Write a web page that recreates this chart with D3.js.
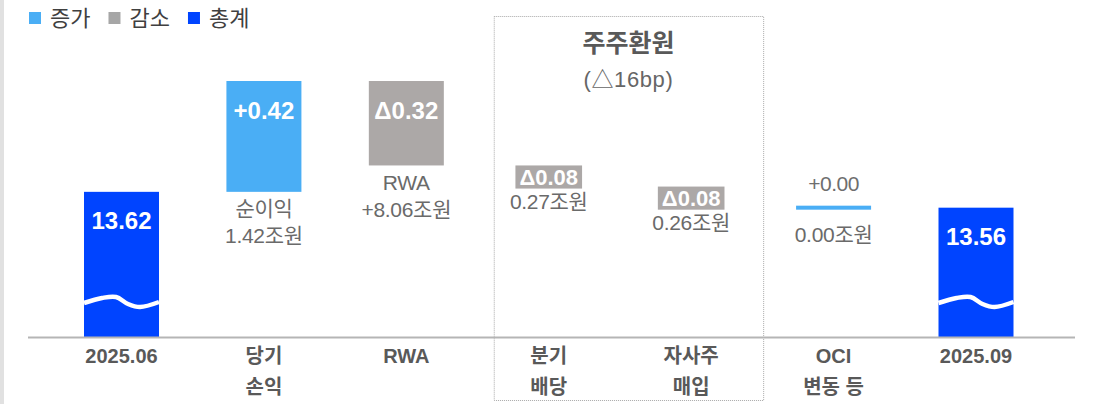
<!DOCTYPE html>
<html>
<head>
<meta charset="utf-8">
<script src="https://cdn.jsdelivr.net/npm/d3@7/dist/d3.min.js"></script>
<style>
  html, body { margin: 0; padding: 0; background: #fff; }
  svg text { font-family: "Liberation Sans", Arial, "Noto Sans CJK KR", sans-serif; }
</style>
</head>
<body>
<svg id="chart" width="1094" height="404"></svg>
<script>
// data
var categories = ["2025.06", "당기\n손익", "RWA", "분기\n배당", "자사주\n매입", "OCI\n변동 등", "2025.09"];
var kinds = ["total", "inc", "dec", "dec", "dec", "inc", "total"];
var values = [13.62, 0.42, -0.32, -0.08, -0.08, 0.00, 13.56];
var valueLabels = ["13.62", "+0.42", "Δ0.32", "Δ0.08", "Δ0.08", "+0.00", "13.56"];
var subLabels = [[], ["순이익", "1.42조원"], ["RWA", "+8.06조원"], ["0.27조원"], ["0.26조원"], ["0.00조원"], []];
var legendLabels = ["증가", "감소", "총계"];
var groupTitle = ["주주환원", "(△16bp)"];
var groupCats = [3, 4];

var colors = {inc: "#4aaef5", dec: "#aca8a7", total: "#0044ff"};
var legendColors = ["#4aaef5", "#a6a6a6", "#0044ff"];

var svg = d3.select("#chart");
var baseY = 337;

// running totals for the waterfall
var running = 0;
var rows = values.map(function(v, i) {
	var r = {cat: categories[i], kind: kinds[i], label: valueLabels[i], sub: subLabels[i], i: i};
	if (kinds[i] == "total") { r.start = 0; r.end = v; running = v; }
	else { r.start = running; r.end = running + v; running = r.end; }
	return r;
});

var x = d3.scalePoint()
	.domain(categories)
	.range([121.5, 976]);

// broken axis: only the top part of the totals is shown
var y = d3.scaleLinear()
	.domain([13.07, 14.04])
	.range([baseY, 81]);

var barW = 75;

// left gray strip
svg.append("rect").attr("x", 0).attr("y", 0).attr("width", 4).attr("height", 404).attr("fill", "#e1e1e1");

// group box (shareholder return)
var gx0 = x(categories[groupCats[0]]) - 55,
	gx1 = x(categories[groupCats[1]]) + 72;
svg.append("rect")
	.attr("x", gx0 + 0.5).attr("y", 16.5)
	.attr("width", gx1 - gx0).attr("height", 384)
	.attr("fill", "none")
	.attr("stroke", "#a9a9a9")
	.attr("stroke-width", 1)
	.attr("stroke-dasharray", "1,1");

svg.append("text")
	.attr("x", (gx0 + gx1) / 2).attr("y", 43)
	.attr("dy", "0.36em")
	.attr("text-anchor", "middle")
	.attr("fill", "#595959")
	.style("font-size", "25px").style("font-weight", "bold")
	.text(groupTitle[0]);
svg.append("text")
	.attr("x", (gx0 + gx1) / 2).attr("y", 79)
	.attr("dy", "0.36em")
	.attr("text-anchor", "middle")
	.attr("fill", "#666")
	.style("font-size", "22px")
	.style("letter-spacing", "0.6px")
	.text(groupTitle[1]);

// bars
rows.forEach(function(d) {
	var cx = x(d.cat);
	var top, bottom;
	if (d.kind == "total") { top = y(d.end); bottom = baseY; }
	else {
		top = y(Math.max(d.start, d.end));
		bottom = y(Math.min(d.start, d.end));
	}
	var h = bottom - top;
	var fill = d.kind == "total" ? colors.total : (d.end < d.start ? colors.dec : colors.inc);
	d.top = top; d.bottom = bottom;

	if (h < 1) {
		// zero change: thin line with label above
		svg.append("rect")
			.attr("x", cx - barW / 2).attr("y", top - 2)
			.attr("width", barW).attr("height", 4)
			.attr("fill", fill);
		svg.append("text")
			.attr("x", cx).attr("y", top - 24)
			.attr("dy", "0.36em")
			.attr("text-anchor", "middle")
			.attr("fill", "#6e6e6e")
			.style("font-size", "21px")
			.style("letter-spacing", "-0.5px")
			.text(d.label);
		d.bottom = top + 10;
	} else if (h < 30) {
		// small bar: width follows the label
		var t = svg.append("text")
			.attr("x", cx).attr("y", (top + bottom) / 2 + 1)
			.attr("dy", "0.36em")
			.attr("text-anchor", "middle")
			.attr("fill", "#fff")
			.style("font-size", "22px").style("font-weight", "bold")
			.text(d.label);
		var bw = t.node().getComputedTextLength() + 8;
		svg.insert("rect", "text")
			.attr("x", cx - bw / 2).attr("y", top)
			.attr("width", bw).attr("height", h + 2)
			.attr("fill", fill);
		d.bottom = bottom - 2;
	} else {
		svg.append("rect")
			.attr("x", cx - barW / 2).attr("y", top)
			.attr("width", barW).attr("height", h)
			.attr("fill", fill);
		svg.append("text")
			.attr("x", cx).attr("y", top + 29)
			.attr("dy", "0.36em")
			.attr("text-anchor", "middle")
			.attr("fill", "#fff")
			.style("font-size", "24px").style("font-weight", "bold")
			.text(d.label);
	}

	if (d.kind == "total") {
		// wavy break line
		var x0 = cx - barW / 2;
		var wave = d3.line().curve(d3.curveCatmullRom)
			([[x0, baseY - 34], [x0 + 18, baseY - 39], [x0 + 32, baseY - 40], [x0 + 44, baseY - 33],
			  [x0 + 56, baseY - 30], [x0 + barW, baseY - 35]]);
		svg.append("path")
			.attr("d", wave)
			.attr("fill", "none")
			.attr("stroke", "#fff")
			.attr("stroke-width", 4.5);
	}

	d.sub.forEach(function(s, k) {
		svg.append("text")
			.attr("x", cx).attr("y", d.bottom + 17 + k * 27)
			.attr("dy", "0.36em")
			.attr("text-anchor", "middle")
			.attr("fill", "#6a6a6a")
			.style("font-size", "21px")
			.style("letter-spacing", "-0.3px")
			.text(s);
	});
});

// baseline
svg.append("line")
	.attr("x1", 28).attr("x2", 1075)
	.attr("y1", baseY + 0.5).attr("y2", baseY + 0.5)
	.attr("stroke", "#b5b5b5").attr("stroke-width", 2);

// category labels
categories.forEach(function(c) {
	c.split("\n").forEach(function(line, k) {
		svg.append("text")
			.attr("x", x(c)).attr("y", 356 + k * 31)
			.attr("dy", "0.36em")
			.attr("text-anchor", "middle")
			.attr("fill", "#595959")
			.style("font-size", "20px").style("font-weight", "bold")
			.text(line);
	});
});

// legend
var lx = 29;
legendLabels.forEach(function(l, i) {
	svg.append("rect")
		.attr("x", lx).attr("y", 12)
		.attr("width", 12).attr("height", 12)
		.attr("fill", legendColors[i]);
	var t = svg.append("text")
		.attr("x", lx + 21).attr("y", 18)
		.attr("dy", "0.36em")
		.attr("fill", "#404040")
		.style("font-size", "22px")
		.text(l);
	lx += 21 + t.node().getComputedTextLength() + 18;
});
</script>
</body>
</html>
